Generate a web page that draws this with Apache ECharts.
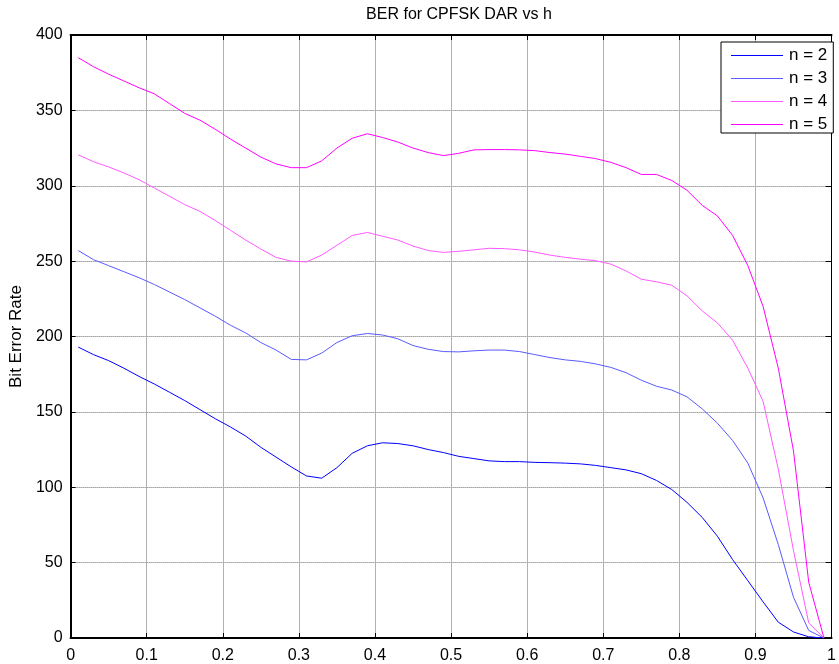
<!DOCTYPE html>
<html>
<head>
<meta charset="utf-8">
<script src="https://cdn.jsdelivr.net/npm/echarts@6/dist/echarts.min.js"></script>
<style>
  html, body { margin: 0; padding: 0; background: #fff; }
  #chart { width: 839px; height: 664px; }
</style>
</head>
<body>
<div id="chart"></div>
<script>
// Modulation index h (sample positions shared by every curve)
const hValues = [0.01, 0.03, 0.05, 0.07, 0.09, 0.11, 0.13, 0.15, 0.17, 0.19,
                 0.21, 0.23, 0.25, 0.27, 0.29, 0.31, 0.33, 0.35, 0.37, 0.39,
                 0.41, 0.43, 0.45, 0.47, 0.49, 0.51, 0.53, 0.55, 0.57, 0.59,
                 0.61, 0.63, 0.65, 0.67, 0.69, 0.71, 0.73, 0.75, 0.77, 0.79,
                 0.81, 0.83, 0.85, 0.87, 0.89, 0.91, 0.93, 0.95, 0.97, 0.99];

// Bit error counts per observation length n
const berN2 = [193, 188, 184, 179, 173.5, 168.5, 163, 157.5, 151.5, 145.5,
               140, 134, 126.5, 120, 113.5, 107.5, 106, 113, 122.5, 127.5,
               129.5, 129, 127.5, 125, 123, 120.5, 119, 117.5, 117, 117,
               116.5, 116.3, 116, 115.5, 114.5, 113, 111.5, 109, 104.5, 98.5,
               90, 80, 67.5, 52, 38, 24, 10.5, 4, 0.8, 0];
const berN3 = [257, 251, 247, 243, 239, 234.5, 229.5, 224.5, 219, 213.5,
               207.5, 202.4, 196, 191, 184.8, 184.5, 189, 196, 200.5, 202,
               201, 198.5, 194, 191.5, 190, 189.8, 190.5, 191, 191, 190,
               188, 186, 184.5, 183.5, 181.8, 179.5, 176, 171, 167, 164.5,
               160, 152, 142.5, 131, 116, 93, 62, 27, 5, 0];
const berN4 = [320.5, 316, 312.5, 308.5, 304, 298.5, 293, 287.5, 283, 277,
               270.5, 264, 258, 252.5, 250, 249.5, 254, 260.5, 267, 269,
               266.5, 264, 260, 257, 255.8, 256.5, 257.5, 258.5, 258.3, 257.5,
               256, 254, 252.5, 251.3, 250.3, 248, 243.5, 238, 236.3, 234,
               227, 217, 209, 197.5, 179, 157, 112, 58, 10, 0];
const berN5 = [385, 379, 374, 369.5, 365, 361, 354.5, 348, 343.5, 337.5,
               331, 325, 319, 314.5, 312, 312, 316.5, 325, 331.5, 334.5,
               332, 329, 325, 322, 320, 321.5, 323.8, 324, 324, 323.8,
               323.3, 322, 321, 319.5, 318, 315.5, 312, 307.5, 307.5, 303.5,
               297, 287, 280, 267, 247, 220, 179, 124, 37, 0];

const seriesNames = ['n = 2', 'n = 3', 'n = 4', 'n = 5'];
const seriesColors = ['#0000ff', '#5a5aff', '#ff5aff', '#ff00ff'];
const seriesData = [berN2, berN3, berN4, berN5];

const xTicks = { min: 0, max: 1, interval: 0.1 };
const yTicks = { min: 0, max: 400, interval: 50 };

const font = 'Liberation Sans, Arial, Helvetica, sans-serif';

const chart = echarts.init(document.getElementById('chart'), null, { renderer: 'canvas' });

const series = seriesData.map((vals, i) => ({
  name: seriesNames[i],
  type: 'line',
  xAxisIndex: 0,
  yAxisIndex: 0,
  data: hValues.map((h, k) => [h, vals[k]]),
  symbol: 'none',
  showSymbol: false,
  smooth: false,
  color: seriesColors[i],
  lineStyle: { color: seriesColors[i], width: 1 },
  itemStyle: { color: seriesColors[i] },
  animation: false,
  z: 3
}));

// Legend swatches are rich-text rules, one colour style per curve
const legendRich = {
  t: { fontFamily: font, fontSize: 17, color: '#000', lineHeight: 16, padding: [0, 0, 0, 6] }
};
seriesColors.forEach((c, i) => {
  legendRich['s' + i] = { width: 52, height: 1, backgroundColor: c, verticalAlign: 'middle' };
});

chart.setOption({
  animation: false,
  backgroundColor: '#ffffff',
  color: seriesColors,
  title: {
    text: 'BER for CPFSK DAR vs h',
    left: 454, top: 2, textAlign: 'center',
    textStyle: { fontFamily: font, fontSize: 16, fontWeight: 'normal', color: '#000' }
  },
  legend: {
    data: seriesNames.map(name => ({ name: name, icon: 'none' })),
    orient: 'vertical',
    left: 721, top: 42,
    padding: [5, 6, 0, 5],
    itemWidth: 0, itemHeight: 14, itemGap: 6,
    backgroundColor: '#ffffff',
    borderColor: '#000', borderWidth: 1,
    formatter: name => '{s' + seriesNames.indexOf(name) + '|}{t|' + name + '}',
    textStyle: { fontFamily: font, fontSize: 17, color: '#000', rich: legendRich }
  },
  grid: { left: 70, right: 0, top: 35, bottom: 25, containLabel: false },
  xAxis: [{
    type: 'value', min: xTicks.min, max: xTicks.max, interval: xTicks.interval,
    position: 'bottom',
    axisLine: { show: true, onZero: false, lineStyle: { color: '#000', width: 2 } },
    axisTick: { show: true, inside: true, length: 5, lineStyle: { color: '#000' } },
    axisLabel: { fontFamily: font, fontSize: 16, color: '#000', margin: 10,
                 formatter: v => String(Math.round(v * 10) / 10) },
    splitLine: { show: true, lineStyle: { color: '#b0b0b0', type: 'solid', width: 1 } }
  }, {
    type: 'value', min: xTicks.min, max: xTicks.max, interval: xTicks.interval,
    position: 'top',
    axisLine: { show: true, onZero: false, lineStyle: { color: '#000', width: 2 } },
    axisTick: { show: true, inside: true, length: 5, lineStyle: { color: '#000' } },
    axisLabel: { show: false },
    splitLine: { show: false }
  }],
  yAxis: [{
    type: 'value', min: yTicks.min, max: yTicks.max, interval: yTicks.interval,
    position: 'left',
    name: 'Bit Error Rate', nameLocation: 'middle', nameGap: 44, nameRotate: 90,
    nameTextStyle: { fontFamily: font, fontSize: 17, color: '#000' },
    axisLine: { show: true, onZero: false, lineStyle: { color: '#000', width: 2 } },
    axisTick: { show: true, inside: true, length: 5, lineStyle: { color: '#000' } },
    axisLabel: { fontFamily: font, fontSize: 16, color: '#000', margin: 8 },
    splitLine: { show: true, lineStyle: { color: '#6a6a6a', type: 'dotted', width: 1 } }
  }, {
    type: 'value', min: yTicks.min, max: yTicks.max, interval: yTicks.interval,
    position: 'right',
    axisLine: { show: true, onZero: false, lineStyle: { color: '#000', width: 1 } },
    axisTick: { show: true, inside: true, length: 6, lineStyle: { color: '#000' } },
    axisLabel: { show: false },
    splitLine: { show: false }
  }],
  series: series
});
</script>
</body>
</html>
